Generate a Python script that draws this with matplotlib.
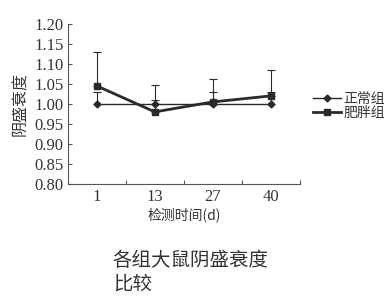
import matplotlib
matplotlib.use("Agg")
import matplotlib.pyplot as plt
from matplotlib.ticker import FixedLocator, NullFormatter
from matplotlib.lines import Line2D

categories = ["1", "13", "27", "40"]
normal = [1.00, 1.00, 1.00, 1.00]
obese = [1.045, 0.98, 1.005, 1.02]
normal_err = [0.03, 0.047, 0.03, 0.03]
obese_err = [0.085, 0.03, 0.058, 0.065]
yticks = [0.80, 0.85, 0.90, 0.95, 1.00, 1.05, 1.10, 1.15, 1.20]

num_font = ["Liberation Serif", "Noto Sans CJK SC"]
cjk_font = ["Noto Sans CJK SC", "DejaVu Sans"]

fig = plt.figure(figsize=(3.92, 2.99), dpi=100)
ax = fig.add_axes([0.173, 0.385, 0.592, 0.535])

x = list(range(len(categories)))
col = "#2a2a2a"
ax.errorbar(x, normal, yerr=[[0]*4, normal_err], color=col, lw=1.0, marker="D",
            ms=3.5, capsize=3, elinewidth=0.8, capthick=0.8, zorder=3)
ax.errorbar(x, obese, yerr=[[0]*4, obese_err], color=col, lw=2.0, marker="s",
            ms=5, capsize=3, elinewidth=0.8, capthick=0.8, zorder=4)

ax.set_xlim(-0.5, 3.5)
ax.set_ylim(0.80, 1.20)
ax.set_yticks(yticks)
ax.set_yticklabels([f"{v:.2f}" for v in yticks], fontfamily=num_font, fontsize=12, color="#333333")
ax.xaxis.set_major_locator(FixedLocator([0.5, 1.5, 2.5, 3.5]))
ax.xaxis.set_major_formatter(NullFormatter())
ax.xaxis.set_minor_locator(FixedLocator(x))
ax.set_xticklabels(categories, minor=True, fontfamily=num_font, fontsize=12, color="#333333")
ax.tick_params(axis="x", which="minor", length=0, pad=4)
ax.tick_params(axis="x", which="major", direction="in", length=3, width=0.8, color="#555555")
ax.tick_params(axis="y", direction="in", length=3, width=0.8, color="#555555", pad=3)

for s in ["top", "right"]:
    ax.spines[s].set_visible(False)
for s in ["left", "bottom"]:
    ax.spines[s].set_color("#555555")
    ax.spines[s].set_linewidth(0.8)

ax.set_xlabel("检测时间(d)", fontfamily=cjk_font, fontsize=10, color="#333333", labelpad=1)
ax.set_ylabel("阴盛衰度", fontfamily=cjk_font, fontsize=11.5, color="#333333", labelpad=4)

handles = [Line2D([], [], color=col, lw=1.0, marker="D", ms=3.5),
           Line2D([], [], color=col, lw=2.0, marker="s", ms=5)]
leg = fig.legend(handles, ["正常组", "肥胖组"], loc="center left", bbox_to_anchor=(0.798, 0.647),
                 bbox_transform=fig.transFigure, frameon=False,
                 prop={"family": cjk_font, "size": 10}, handlelength=2.0,
                 handletextpad=0.2, labelspacing=0.0, borderaxespad=0, borderpad=0)
for t in leg.get_texts():
    t.set_color("#333333")

fig.text(0.288, 0.09, "各组大鼠阴盛衰度\n比较", fontfamily=cjk_font, fontsize=14,
         color="#333333", ha="left", va="center", linespacing=1.15)

fig.savefig("out.png", dpi=100)
